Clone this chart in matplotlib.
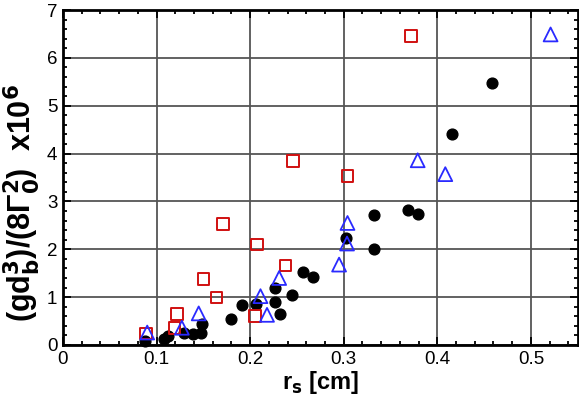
import matplotlib
matplotlib.use("Agg")
import matplotlib.pyplot as plt
from matplotlib.ticker import MultipleLocator

plt.rcParams["font.family"] = ["Liberation Sans", "DejaVu Sans"]
plt.rcParams["mathtext.fontset"] = "custom"
plt.rcParams["mathtext.rm"] = "Liberation Sans"
plt.rcParams["mathtext.bf"] = "Liberation Sans Narrow:bold"

# black filled circles
circle_x = [0.0876, 0.108, 0.112, 0.129, 0.139, 0.147, 0.148, 0.180, 0.191,
            0.206, 0.226, 0.2266, 0.2316, 0.245, 0.2564, 0.267, 0.302, 0.332,
            0.3326, 0.3685, 0.3794, 0.4156, 0.4589]
circle_y = [0.08, 0.13, 0.18, 0.25, 0.22, 0.24, 0.44, 0.54, 0.83,
            0.85, 1.20, 0.90, 0.65, 1.05, 1.53, 1.43, 2.24, 2.72,
            2.00, 2.82, 2.73, 4.41, 5.48]

# red open squares
square_x = [0.0887, 0.119, 0.122, 0.150, 0.164, 0.171, 0.205, 0.207, 0.2376,
            0.246, 0.304, 0.372]
square_y = [0.24, 0.35, 0.65, 1.38, 0.99, 2.53, 0.61, 2.10, 1.66,
            3.85, 3.53, 6.46]

# blue open triangles
tri_x = [0.090, 0.127, 0.145, 0.211, 0.218, 0.231, 0.295, 0.3035, 0.304,
         0.379, 0.4085, 0.521]
tri_y = [0.26, 0.36, 0.66, 1.02, 0.63, 1.40, 1.68, 2.12, 2.55,
         3.86, 3.57, 6.49]

fig = plt.figure(figsize=(5.79, 4.01), dpi=100)
ax = fig.add_axes([0.1088, 0.1397, 0.889, 0.8353])

ax.grid(True, which="major", color="#555555", linewidth=1.3, zorder=0)
ax.set_axisbelow(True)

ax.scatter(circle_x, circle_y, s=60, color="black", marker="o",
           zorder=3, clip_on=False)
ax.scatter(square_x, square_y, s=70, facecolor="none", edgecolor="#d01010",
           marker="s", linewidths=1.4, zorder=4, clip_on=False)
ax.scatter(tri_x, tri_y, s=100, facecolor="none", edgecolor="#2a2aff",
           marker="^", linewidths=1.3, zorder=5, clip_on=False)

ax.set_xlim(0, 0.55)
ax.set_ylim(0, 7)
ax.xaxis.set_major_locator(MultipleLocator(0.1))
ax.xaxis.set_minor_locator(MultipleLocator(0.02))
ax.yaxis.set_major_locator(MultipleLocator(1))
ax.yaxis.set_minor_locator(MultipleLocator(0.2))
ax.xaxis.set_major_formatter(plt.FuncFormatter(lambda v, p: "0" if v == 0 else f"{v:.1f}"))

ax.tick_params(which="both", direction="in", top=True, right=True,
               labelsize=13.5, width=1.3)
ax.tick_params(which="major", length=6, pad=4)
ax.tick_params(which="minor", length=3)
for s in ax.spines.values():
    s.set_linewidth(2)

ax.set_xlabel(r"r$_\mathbf{s}$ [cm]", fontsize=17, fontweight="bold", labelpad=1)
ax.set_ylabel(r"(gd$_\mathbf{b}^\mathbf{3}$)/(8Γ$_\mathbf{0}^\mathbf{2}$)  x10$^\mathbf{6}$",
              fontsize=22, fontweight="bold",
              family=["Liberation Sans Narrow", "Liberation Sans"])
ax.yaxis.set_label_coords(-0.04, 0.425)

fig.savefig("out.png", dpi=100)
